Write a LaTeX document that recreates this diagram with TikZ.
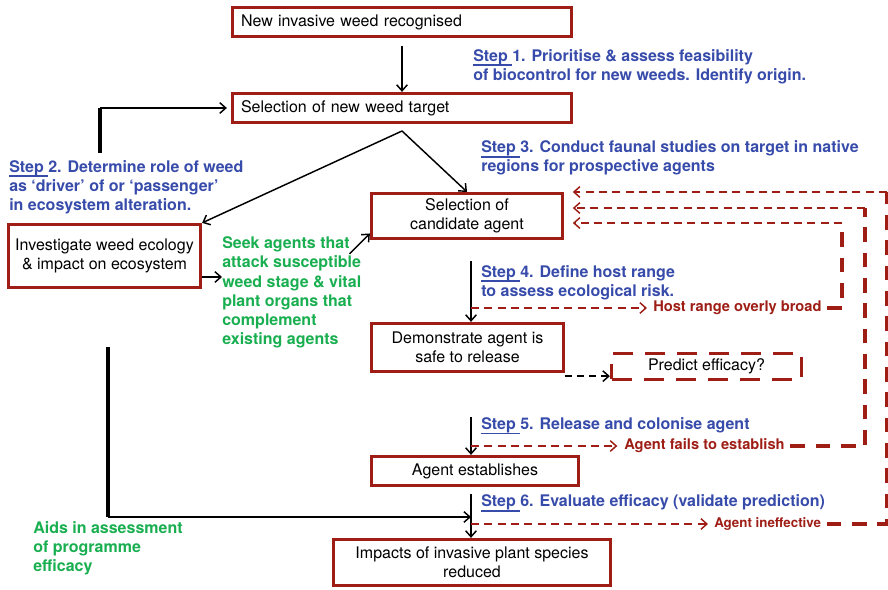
\documentclass[tikz,border=0pt]{standalone}
\usepackage{fontspec}
\setmainfont{TeX Gyre Heros}
\usepackage{xcolor}
\usepackage{tikz}
\usetikzlibrary{arrows.meta}
\definecolor{boxred}{RGB}{158,30,22}
\definecolor{stepblue}{RGB}{55,75,170}
\definecolor{seekgreen}{RGB}{25,175,80}
\newcommand{\stp}[1]{{\setbox0\hbox{Step }\rlap{\rule[-3.8pt]{\wd0}{1.3pt}}\box0}#1.}

\begin{document}
\begin{tikzpicture}[x=0.75pt,y=-0.75pt,
  redbox/.style={draw=boxred, line width=2.6pt, inner sep=0pt, align=center, font=\fontsize{12}{14.25}\selectfont},
  steptext/.style={anchor=west, inner sep=0pt, align=left, text=stepblue, font=\fontsize{12}{14.4}\selectfont\bfseries},
  greentext/.style={steptext, text=seekgreen},
  fbtext/.style={anchor=west, inner sep=0pt, text=boxred, font=\fontsize{11}{13}\selectfont\bfseries},
  flow/.style={line width=1.1pt, -{Straight Barb[length=4.5pt,width=8pt]}},
  fbthin/.style={draw=boxred, line width=1.1pt, dash pattern=on 6pt off 4pt, -{Straight Barb[length=4.5pt,width=8pt]}},
  fbthick/.style={draw=boxred, line width=3pt, dash pattern=on 11pt off 8pt},
  heavy/.style={line width=2.5pt}]
\useasboundingbox (0,0) rectangle (888,589);
\node[redbox, minimum width=254.1pt, minimum height=21.6pt, text width=241.5pt, align=left] (newweed) at (402,22) {New invasive weed recognised};
\node[redbox, minimum width=254.1pt, minimum height=21.6pt, text width=241.5pt, align=left] (target) at (402,108) {Selection of new weed target};
\node[redbox, minimum width=143.85pt, minimum height=47.1pt] (invest) at (104.5,256) {Investigate weed ecology\\ \& impact on ecosystem};
\node[redbox, minimum width=143.1pt, minimum height=33.6pt] (cand) at (467,216) {Selection of\\ candidate agent};
\node[redbox, minimum width=143.85pt, minimum height=35.85pt] (safe) at (467.5,347.5) {Demonstrate agent is\\ safe to release};
\node[redbox, dash pattern=on 15pt off 9pt, minimum width=142.35pt, minimum height=19.35pt] (predict) at (706.5,366.5) {Predict efficacy?};
\node[redbox, minimum width=155.1pt, minimum height=21.6pt] (est) at (475,471) {Agent establishes};
\node[redbox, minimum width=207.6pt, minimum height=34.35pt] (impact) at (472,562.5) {Impacts of invasive plant species\\ reduced};
\node[steptext] (step1) at (473,66.5) {\stp{1} Prioritise \& assess feasibility\\ of biocontrol for new weeds. Identify origin.};
\node[steptext] (step2) at (9,187) {\stp{2} Determine role of weed\\ as ‘driver’ of or ‘passenger’\\ in ecosystem alteration.};
\node[steptext] (step3) at (481,158) {\stp{3} Conduct faunal studies on target in native\\ regions for prospective agents};
\node[steptext] (step4) at (481,282.5) {\stp{4} Define host range\\ to assess ecological risk.};
\node[steptext] (step5) at (481,426) {\stp{5} Release and colonise agent};
\node[steptext] (step6) at (481,503) {\stp{6} Evaluate efficacy (validate prediction)};
\node[greentext] (seek) at (222,292.5) {Seek agents that\\ attack susceptible\\ weed stage \& vital\\ plant organs that\\ complement\\ existing agents};
\node[greentext] (aids) at (33,548.5) {Aids in assessment\\ of programme\\ efficacy};
\node[fbtext] (host) at (653,308) {Host range overly broad};
\node[fbtext] (fails) at (624,446) {Agent fails to establish};
\node[fbtext, font=\fontsize{10}{12}\selectfont\bfseries] (ineff) at (714,524) {Agent ineffective};
\coordinate (split) at (402,131);
\coordinate (loopstart) at (100,153);
\coordinate (loopcorner) at (100,108);
\coordinate (aidstop) at (108,347);
\coordinate (aidscorner) at (108,517);
\coordinate (s4) at (471,261);
\coordinate (s5) at (471,417);
\coordinate (s6) at (471,494);
\coordinate (r4) at (842,223);
\coordinate (r5) at (865,208);
\coordinate (r6) at (887,192);
\path ([yshift=-15.75pt]invest.east) coordinate (investout);
\path ([yshift=-2.25pt]safe.south east) coordinate (safeout);
\draw[flow] ([yshift=-6pt]newweed.south) -- (target.north);
\draw[flow] (split) -- (invest.north east);
\draw[flow] (split) -- (cand.north);
\draw[heavy] (loopstart) -- (loopcorner);
\draw[flow, shorten >=3pt] (loopcorner) -- (target.west);
\draw[flow] (investout) -- (investout -| seek.west);
\draw[flow] ([xshift=-9pt,yshift=-13pt]seek.north east) -- ([yshift=5pt]cand.south west);
\draw[flow] (s4) -- (s4 |- safe.north);
\draw[flow, dash pattern=on 5pt off 4pt] (safeout) -- (safeout -| predict.west);
\draw[flow] (s5) -- (s5 |- est.north);
\draw[flow] (s6) -- (s6 |- impact.north);
\draw[heavy] (aidstop) -- (aidscorner);
\draw[flow] (aidscorner) -- (s6 |- aidscorner);
\draw[fbthin, shorten >=4.5pt] (s4 |- host.west) -- (host.west);
\draw[fbthick] ([xshift=4pt]host.east) -| (r4);
\draw[fbthin, shorten >=6.5pt] (r4) -- (r4 -| cand.east);
\draw[fbthin, shorten >=5pt] (s5 |- fails.west) -- (fails.west);
\draw[fbthick] ([xshift=4pt]fails.east) -| (r5);
\draw[fbthin, shorten >=6.5pt] (r5) -- (r5 -| cand.east);
\draw[fbthin, shorten >=4.5pt] (s6 |- ineff.west) -- (ineff.west);
\draw[fbthick] ([xshift=4pt]ineff.east) -| (r6);
\draw[fbthin, shorten >=6.5pt] (r6) -- (r6 -| cand.east);
\end{tikzpicture}
\end{document}
